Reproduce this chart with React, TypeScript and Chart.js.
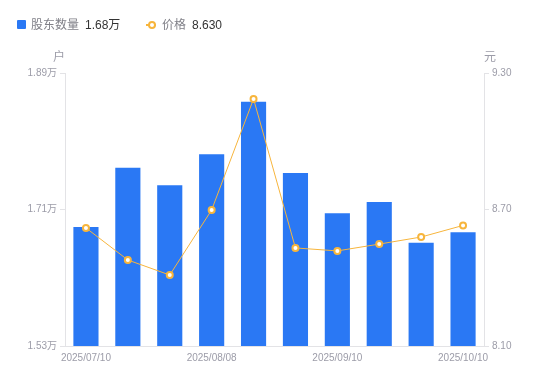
import React, { useEffect, useRef } from "react";
import { Chart, registerables } from "chart.js";

Chart.register(...registerables);

const categories = [
  "2025/07/10", "2025/07/20", "2025/07/31", "2025/08/08", "2025/08/20",
  "2025/08/31", "2025/09/10", "2025/09/19", "2025/09/30", "2025/10/10",
];
const holders = [1.687, 1.765, 1.742, 1.783, 1.852, 1.758, 1.705, 1.72, 1.666, 1.68];
const prices = [8.619, 8.478, 8.412, 8.698, 9.186, 8.531, 8.518, 8.548, 8.579, 8.63];
const leftTicks = [1.53, 1.71, 1.89];
const rightTicks = [8.1, 8.7, 9.3];
const shownLabelIdx = [0, 3, 6, 9];

const FONT = '"Liberation Sans", Arial, "Noto Sans CJK SC", sans-serif';
const BLUE = "#2a78f4";
const ORANGE = "#f7b53c";
const TICK = "#9c9ca8";
const AXIS = "#e3e3e6";

export default function App() {
  const ref = useRef<HTMLCanvasElement>(null);
  useEffect(() => {
    if (!ref.current) return;
    const chart = new Chart(ref.current, {
      type: "bar",
      data: {
        labels: categories,
        datasets: [
          {
            type: "line",
            label: "价格",
            data: prices,
            yAxisID: "y1",
            borderColor: ORANGE,
            borderWidth: 1,
            pointRadius: 3,
            pointBorderWidth: 2,
            pointBackgroundColor: "#ffffff",
            pointBorderColor: ORANGE,
            tension: 0,
            order: 0,
          } as any,
          {
            type: "bar",
            label: "股东数量",
            data: holders,
            yAxisID: "y",
            backgroundColor: BLUE,
            barPercentage: 0.6,
            categoryPercentage: 1,
            order: 1,
          },
        ],
      },
      options: {
        animation: false,
        responsive: false,
        layout: { padding: { top: 73, left: 0, right: 0, bottom: 0 } },
        plugins: { legend: { display: false }, tooltip: { enabled: false } },
        scales: {
          x: {
            grid: { display: false, drawTicks: false },
            border: { color: AXIS, width: 1 },
            ticks: {
              autoSkip: false,
              maxRotation: 0,
              color: TICK,
              font: { family: FONT, size: 10 },
              padding: 6,
              callback: (_v: any, i: number) => (shownLabelIdx.includes(i) ? categories[i] : ""),
            },
            afterFit: (s: any) => { s.height = 35; },
          },
          y: {
            position: "left",
            min: 1.53,
            max: 1.89,
            afterBuildTicks: (s: any) => { s.ticks = leftTicks.map((v) => ({ value: v })); },
            grid: { display: true, drawOnChartArea: false, drawTicks: true, tickLength: 5, color: AXIS },
            border: { color: AXIS, width: 1 },
            ticks: {
              color: TICK,
              font: { family: FONT, size: 10 },
              padding: 3,
              callback: (v: any) => Number(v).toFixed(2) + "万",
            },
            afterFit: (s: any) => { s.width = 65; },
          },
          y1: {
            position: "right",
            min: 8.1,
            max: 9.3,
            afterBuildTicks: (s: any) => { s.ticks = rightTicks.map((v) => ({ value: v })); },
            grid: { display: true, drawOnChartArea: false, drawTicks: true, tickLength: 5, color: AXIS },
            border: { color: AXIS, width: 1 },
            ticks: {
              color: TICK,
              font: { family: FONT, size: 10 },
              padding: 3,
              callback: (v: any) => Number(v).toFixed(2),
            },
            afterFit: (s: any) => { s.width = 66; },
          },
        },
      },
    });
    return () => chart.destroy();
  }, []);

  const txt: React.CSSProperties = { position: "absolute", fontFamily: FONT, fontSize: 12, whiteSpace: "nowrap", lineHeight: "14px" };
  return (
    <div style={{ position: "absolute", left: 0, top: 0, width: 550, height: 381, background: "#fff" }}>
      <canvas ref={ref} width={550} height={381} style={{ position: "absolute", left: 0, top: 0 }} />
      <div style={{ position: "absolute", left: 17, top: 20, width: 9, height: 9, background: BLUE, borderRadius: 1 }} />
      <span style={{ ...txt, left: 31, top: 18, color: "#808088" }}>股东数量</span>
      <span style={{ ...txt, left: 85, top: 18, color: "#333" }}>1.68万</span>
      <div style={{ position: "absolute", left: 146, top: 24, width: 10, height: 2, background: ORANGE }} />
      <div style={{ position: "absolute", left: 148, top: 21, width: 4, height: 4, border: `2px solid ${ORANGE}`, borderRadius: "50%", background: "#fff" }} />
      <span style={{ ...txt, left: 162, top: 18, color: "#808088" }}>价格</span>
      <span style={{ ...txt, left: 192, top: 18, color: "#333" }}>8.630</span>
      <span style={{ ...txt, left: 53, top: 50, color: TICK, fontSize: 12 }}>户</span>
      <span style={{ ...txt, left: 484, top: 50, color: TICK, fontSize: 12 }}>元</span>
    </div>
  );
}
